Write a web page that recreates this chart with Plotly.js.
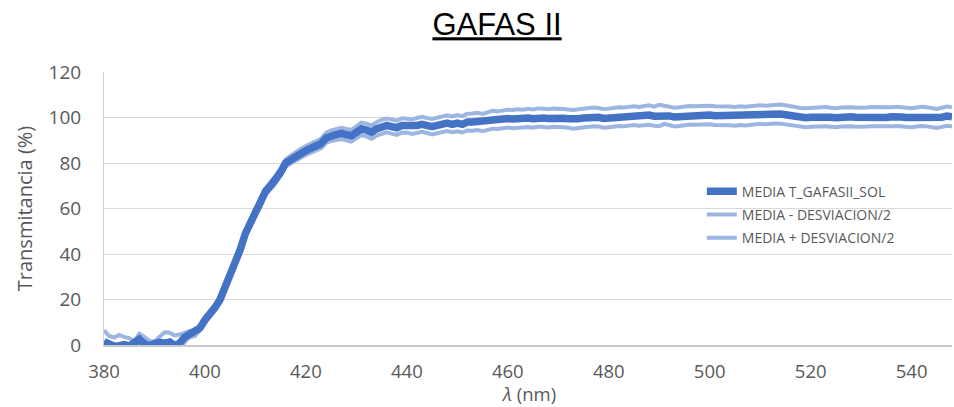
<!DOCTYPE html>
<html>
<head>
<meta charset="utf-8">
<script src="https://cdn.plot.ly/plotly-3.0.1.min.js"></script>
<style>html,body{margin:0;padding:0;background:#fff;}#chart{width:954px;height:407px;}</style>
</head>
<body>
<div id="chart"></div>
<script>
// wavelength 380..548 nm (1 nm step)
const wavelength = [];
for (let w = 380; w <= 548; w++) wavelength.push(w);

const media = [
1.5,0.3,-0.5,-0.3,0.2,-0.5,1.5,2.5,0.5,-0.3,
0.5,1.2,0.8,1.3,-0.2,0.8,3.5,4.8,5.3,7.5,
11,13.5,16.5,20,25,31,36.5,42,49,54,
58.5,62,67.5,70,72.5,76,80,81.5,83,84.5,
85.5,86.5,87.5,88.5,91,92,92.5,93,92.5,92,
93.5,95,94.5,93.5,95,96,96.5,96,95.5,96.5,
96.5,96,96.5,97,96.5,96,96.5,97,97.5,97,
97.5,97,98,98,98.3,97.8,98.5,99,98.8,99.2,
99.5,99.3,99.6,99.5,99.8,99.5,100,99.8,99.6,99.9,
100,99.7,99.5,99.2,99.5,99.8,100,100.3,100.1,99.6,
99.8,100.2,100.4,100.3,100.6,100.8,100.5,100.9,101.1,100.6,
100.9,101.2,100.7,100.2,100.4,100.8,101,100.9,101.1,101.3,
101.1,100.8,100.9,101,100.7,100.5,100.8,100.6,100.9,101.2,
101.3,101.1,101.4,101.6,101.5,101.2,100.7,100.2,100,99.9,
100.1,100.3,100.2,100.4,100.1,99.9,100.2,100.4,100.3,100.1,
100,100.2,100.4,100.3,100.1,100,100.3,100.5,100.2,100,
99.9,100.2,100.5,100.3,99.8,99.6,100.1,100.6,100.3
];

const mediaMenos = [
-3.5,-3.4,-4.3,-5,-3.2,-4,-2,0,-2.6,-2.4,
-0.5,-1.2,-4,-2.8,-4.6,-3,1.4,3.4,4,6.4,
9.8,12.4,15.4,18.8,23.8,29.8,35.3,40.8,47.8,52.7,
57.2,60.6,66,68.5,71,74.4,78.4,79.8,81.2,82.7,
83.6,84.5,85.4,86.4,88.8,89.7,90.1,90.5,90,89.4,
90.9,92.3,91.7,90.6,92.1,93,93.5,92.9,92.4,93.3,
93.4,92.8,93.2,93.7,93.2,92.6,93.1,93.5,94,93.5,
93.9,93.4,94.3,94.2,94.5,94,94.6,95.1,94.9,95.3,
95.6,95.3,95.6,95.6,95.8,95.5,96,95.8,95.6,95.9,
96,95.7,95.5,95.1,95.4,95.7,95.9,96.2,96,95.5,
95.7,96.1,96.3,96.2,96.5,96.7,96.4,96.8,96.8,96.4,
96.2,97.2,96.6,96.1,96.3,96.7,96.9,96.8,97,97.2,
97,96.7,96.8,96.9,96.6,96.4,96.7,96.5,96.8,97.1,
97.2,97,97.3,97.4,97.3,97,96.5,96,95.8,95.7,
95.9,96.1,96,96.2,95.9,95.7,96,96.2,96.1,95.9,
95.8,96,96.2,96.1,95.9,95.8,96.1,96.3,96,95.8,
95.7,96,96.3,96.1,95.6,95.4,95.9,96.4,96.1
];

const mediaMas = [
6.5,4.0,3.3,4.4,3.6,3.0,1.6,5.0,3.6,1.8,
1.5,3.6,5.6,5.4,4.2,4.6,5.6,6.2,6.6,8.6,
12.2,14.6,17.6,21.2,26.2,32.2,37.7,43.2,50.2,55.3,
59.8,63.4,69,71.5,74,77.6,81.6,83.2,84.8,86.3,
87.4,88.5,89.6,90.6,93.2,94.3,94.9,95.5,95,94.6,
96.1,97.7,97.3,96.4,97.9,99,99.5,99.1,98.6,99.7,
99.6,99.2,99.8,100.3,99.8,99.4,99.9,100.5,101,100.5,
101.1,100.6,101.7,101.8,102.1,101.6,102.4,102.9,102.7,103.1,
103.4,103.3,103.6,103.4,103.8,103.5,104,103.8,103.6,103.9,
104,103.7,103.5,103.3,103.6,103.9,104.1,104.4,104.2,103.7,
103.9,104.3,104.5,104.4,104.7,104.9,104.6,105,105.4,104.8,
105.6,105.2,104.8,104.3,104.5,104.9,105.1,105,105.2,105.4,
105.2,104.9,105,105.1,104.8,104.6,104.9,104.7,105,105.3,
105.4,105.2,105.5,105.8,105.7,105.4,104.9,104.4,104.2,104.1,
104.3,104.5,104.4,104.6,104.3,104.1,104.4,104.6,104.5,104.3,
104.2,104.4,104.6,104.5,104.3,104.2,104.5,104.7,104.4,104.2,
104.1,104.4,104.7,104.5,104,103.8,104.3,104.8,104.5
];

const seriesNames = ["MEDIA T_GAFASII_SOL", "MEDIA - DESVIACION/2", "MEDIA + DESVIACION/2"];
const yTicks = [0, 20, 40, 60, 80, 100, 120];
const xTicks = [380, 400, 420, 440, 460, 480, 500, 520, 540];

const dark = "#4472C4";
const light = "#9DB5E1";

const traces = [
  {x: wavelength, y: mediaMenos, name: seriesNames[1], mode: "lines",
   line: {color: light, width: 4}, legendrank: 2, legendgroup: "b"},
  {x: wavelength, y: mediaMas, name: seriesNames[2], mode: "lines",
   line: {color: light, width: 4}, legendrank: 3, legendgroup: "c"},
  {x: wavelength, y: media, name: seriesNames[0], mode: "lines",
   line: {color: dark, width: 7.5}, legendrank: 1, legendgroup: "a"}
];

const layout = {
  width: 954, height: 407,
  margin: {l: 104, r: 2, t: 72, b: 62},
  paper_bgcolor: "#fff", plot_bgcolor: "#fff",
  title: {text: "<u>GAFAS II</u>", font: {family: "Liberation Sans, Arial", size: 31, color: "#000"},
          x: 0.521, xref: "container", xanchor: "center", y: 0.94, yref: "container", yanchor: "middle"},
  xaxis: {range: [380, 548], tickvals: xTicks, ticktext: xTicks.map(String),
          showgrid: false, zeroline: false, showline: true, linecolor: "#c9c9c9", linewidth: 1.5,
          ticks: "", ticklabelstandoff: 9, tickfont: {family: "Open Sans", size: 18.5, color: "#595959"}},
  yaxis: {range: [0, 120], tickvals: yTicks, ticktext: yTicks.map(String),
          showgrid: true, gridcolor: "#d9d9d9", gridwidth: 1, zeroline: false,
          showline: true, linecolor: "#d0d0d0", linewidth: 1,
          ticks: "", ticklabelstandoff: 18, tickfont: {family: "Open Sans", size: 19, color: "#595959"},
          title: {text: "Transmitancia (%)", font: {family: "Open Sans", size: 20, color: "#595959"}, standoff: 10}},
  annotations: [{
    text: "<i>λ</i> (nm)", xref: "paper", yref: "paper", x: 0.5, y: -62 / 273,
    xanchor: "center", yanchor: "bottom", showarrow: false,
    font: {family: "Open Sans", size: 18.5, color: "#595959"}, borderpad: 0
  }],
  showlegend: true,
  legend: {x: 0.705, y: 0.62, xanchor: "left", yanchor: "top", bgcolor: "rgba(255,255,255,0)",
           font: {family: "Open Sans", size: 14, color: "#595959"}, tracegroupgap: 2, traceorder: "grouped"}
};

Plotly.newPlot("chart", traces, layout, {displayModeBar: false, staticPlot: true});
</script>
</body>
</html>
